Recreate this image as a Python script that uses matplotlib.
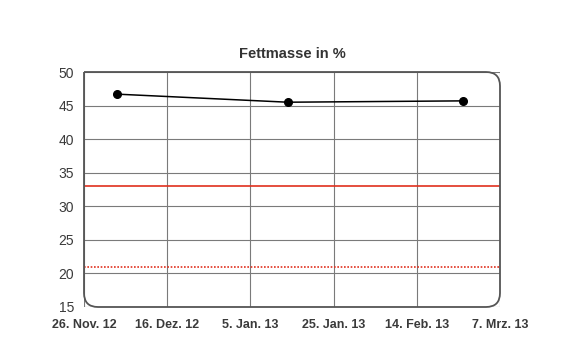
import matplotlib
matplotlib.use("Agg")
import matplotlib.pyplot as plt
import matplotlib.dates as mdates
from matplotlib.path import Path
from matplotlib.patches import PathPatch
import datetime as dt

# Messwerte
mess_datum = [dt.date(2012, 12, 4), dt.date(2013, 1, 14), dt.date(2013, 2, 25)]
fettmasse = [46.7, 45.5, 45.7]

# Referenzlinien
grenze_oben = 33.0
grenze_unten = 21.0

# Achsen
x_ticks = [dt.date(2012, 11, 26), dt.date(2012, 12, 16), dt.date(2013, 1, 5),
           dt.date(2013, 1, 25), dt.date(2013, 2, 14), dt.date(2013, 3, 6)]
x_labels = ["26. Nov. 12", "16. Dez. 12", "5. Jan. 13", "25. Jan. 13", "14. Feb. 13", "7. Mrz. 13"]
y_ticks = [15, 20, 25, 30, 35, 40, 45, 50]

plt.rcParams['font.family'] = ['Liberation Sans', 'DejaVu Sans']

fig = plt.figure(figsize=(5.7, 3.6), dpi=100)
ax = fig.add_axes([84 / 570, 1 - 307 / 360, 416 / 570, 235 / 360])

xnum = mdates.date2num(x_ticks)
ax.set_xlim(xnum[0], xnum[-1])
ax.set_ylim(y_ticks[0], y_ticks[-1])

# Gitter
ax.set_xticks(xnum)
ax.set_xticklabels(x_labels, fontsize=9, fontweight='bold', color='#3a3a3a')
ax.set_yticks(y_ticks)
ax.set_yticklabels([str(v) for v in y_ticks], fontsize=10, color='#3a3a3a')
ax.tick_params(axis='x', length=0, pad=9)
ax.tick_params(axis='y', length=0, pad=7)
ax.grid(True, color='#7a7a7a', linewidth=0.8)
ax.set_axisbelow(True)
for s in ax.spines.values():
    s.set_visible(False)

# Referenzlinien
ax.axhline(grenze_oben, color='#e0301e', linewidth=1.2, zorder=3)
ax.axhline(grenze_unten, color='#e0301e', linewidth=1.2, linestyle=(0, (1, 1)), zorder=3)

# Daten
ax.plot(mdates.date2num(mess_datum), fettmasse, color='black', linewidth=1.1,
        marker='o', markersize=5.5, zorder=4, clip_on=False)

# Rahmen mit abgerundeten Ecken (oben rechts, unten rechts, unten links)
rx, ry = 14 / 416, 14 / 235
verts = [
    (0, 1),
    (1 - rx, 1), (1, 1), (1, 1 - ry),
    (1, ry), (1, 0), (1 - rx, 0),
    (rx, 0), (0, 0), (0, ry),
    (0, 1),
]
codes = [Path.MOVETO,
         Path.LINETO, Path.CURVE3, Path.CURVE3,
         Path.LINETO, Path.CURVE3, Path.CURVE3,
         Path.LINETO, Path.CURVE3, Path.CURVE3,
         Path.LINETO]
rahmen = PathPatch(Path(verts, codes), transform=ax.transAxes, facecolor='none',
                   edgecolor='#555555', linewidth=1.3, zorder=5, clip_on=False)
ax.add_patch(rahmen)

ax.set_title("Fettmasse in %", fontsize=10.5, fontweight='bold', color='#333333', pad=10)

fig.savefig("out.png", dpi=100)
